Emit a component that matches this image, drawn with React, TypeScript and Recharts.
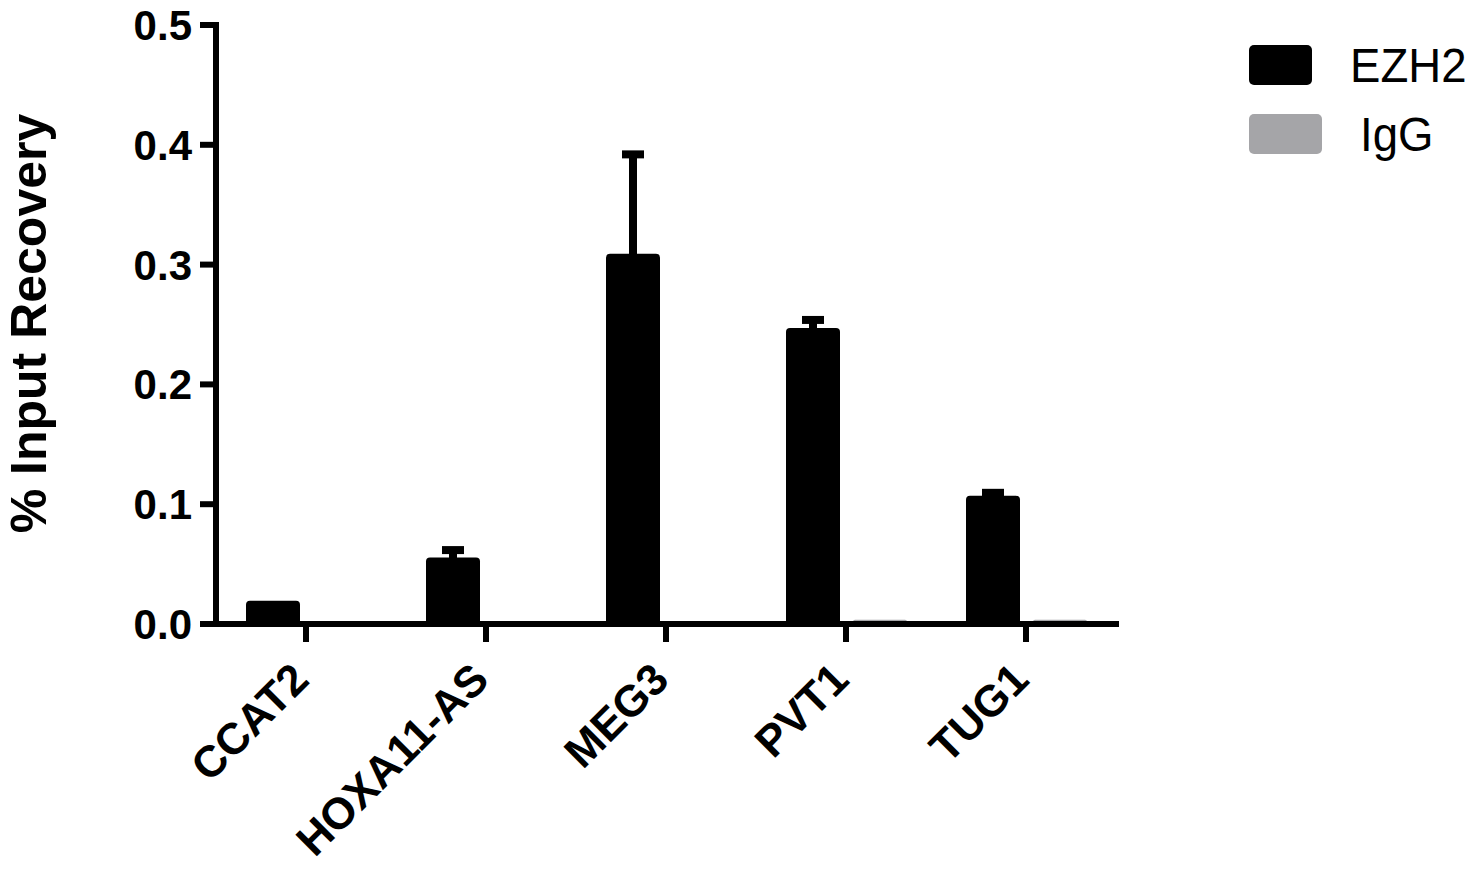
import React from 'react';
import { BarChart, Bar, XAxis, YAxis, ErrorBar, Legend } from 'recharts';

const categories = ['CCAT2', 'HOXA11-AS', 'MEG3', 'PVT1', 'TUG1'];
const ezh2Values = [0.0195, 0.0555, 0.309, 0.247, 0.107];
const ezh2Errors = [0, 0.0062, 0.083, 0.0068, 0.0025];
const iggValues = [0.0004, 0.0004, 0.0005, 0.0035, 0.0035];
const yTicks = [0, 0.1, 0.2, 0.3, 0.4, 0.5];
const seriesNames = ['EZH2', 'IgG'];
const seriesColors = ['#000000', '#a5a5a8'];
const yAxisTitle = '% Input Recovery';

const FONT = "'Liberation Sans', Arial, Helvetica, sans-serif";

const data = categories.map((c, i) => ({
  name: c,
  ezh2: ezh2Values[i],
  ezh2Err: ezh2Errors[i],
  igg: iggValues[i],
}));

const XTick = (props: any) => {
  const { x, y, payload } = props;
  const ax = x + 5;
  const ay = y + 40;
  return (
    <text
      x={ax}
      y={ay}
      transform={`rotate(-45, ${ax}, ${ay})`}
      textAnchor="end"
      fontSize={44}
      fontWeight="bold"
      fontFamily={FONT}
      fill="#000"
    >
      {payload.value}
    </text>
  );
};

const YTick = (props: any) => {
  const { x, y, payload } = props;
  return (
    <text
      x={x}
      y={y + 15}
      textAnchor="end"
      fontSize={42}
      fontWeight="bold"
      fontFamily={FONT}
      fill="#000"
    >
      {Number(payload.value).toFixed(1)}
    </text>
  );
};

const YLabel = (props: any) => {
  const vb = props.viewBox || { x: 0, y: 25, width: 216, height: 599 };
  const cx = 46;
  const cy = vb.y + vb.height / 2 - 1;
  return (
    <text
      x={cx}
      y={cy}
      transform={`rotate(-90, ${cx}, ${cy})`}
      textAnchor="middle"
      fontSize={50}
      fontWeight="bold"
      fontFamily={FONT}
      fill="#000"
    >
      {yAxisTitle}
    </text>
  );
};

const renderLegend = () => (
  <div style={{ fontFamily: FONT }}>
    {seriesNames.map((n, i) => (
      <div key={n} style={{ display: 'flex', alignItems: 'center', height: 69 }}>
        <div style={{ width: 73, height: 40, background: seriesColors[i], borderRadius: 5 }} />
        <span
          style={{
            marginLeft: 38,
            fontSize: 49,
            lineHeight: '49px',
            color: '#000',
            display: 'inline-block',
            transform: 'scaleX(0.93)',
            transformOrigin: 'left center',
          }}
        >
          {n}
        </span>
      </div>
    ))}
  </div>
);

export default function App() {
  return (
    <div style={{ position: 'absolute', left: 0, top: 0, background: '#fff' }}>
      <BarChart
        width={1475}
        height={872}
        data={data}
        margin={{ top: 25, right: 359, bottom: 0, left: 0 }}
        barCategoryGap={30}
        barGap={13}
      >
        <Legend
          layout="vertical"
          align="center"
          verticalAlign="middle"
          wrapperStyle={{ left: 1249, top: 30.5, width: 226 }}
          content={renderLegend}
        />
        <Bar dataKey="ezh2" name={seriesNames[0]} fill={seriesColors[0]} radius={[4, 4, 0, 0]} isAnimationActive={false}>
          <ErrorBar dataKey="ezh2Err" width={11} strokeWidth={8} stroke="#000" direction="y" />
        </Bar>
        <Bar dataKey="igg" name={seriesNames[1]} fill={seriesColors[1]} radius={[2, 2, 0, 0]} isAnimationActive={false} />
        <XAxis
          dataKey="name"
          interval={0}
          height={248}
          tickSize={18}
          tickMargin={0}
          tick={<XTick />}
          axisLine={{ stroke: '#000', strokeWidth: 6, strokeLinecap: 'square' }}
          tickLine={{ stroke: '#000', strokeWidth: 6 }}
        />
        <YAxis
          domain={[0, 0.5]}
          ticks={yTicks}
          interval={0}
          width={216}
          tickSize={16}
          tickMargin={8}
          tick={<YTick />}
          axisLine={{ stroke: '#000', strokeWidth: 6, strokeLinecap: 'square' }}
          tickLine={{ stroke: '#000', strokeWidth: 6 }}
          label={(p: any) => <YLabel {...p} />}
        />
      </BarChart>
    </div>
  );
}
